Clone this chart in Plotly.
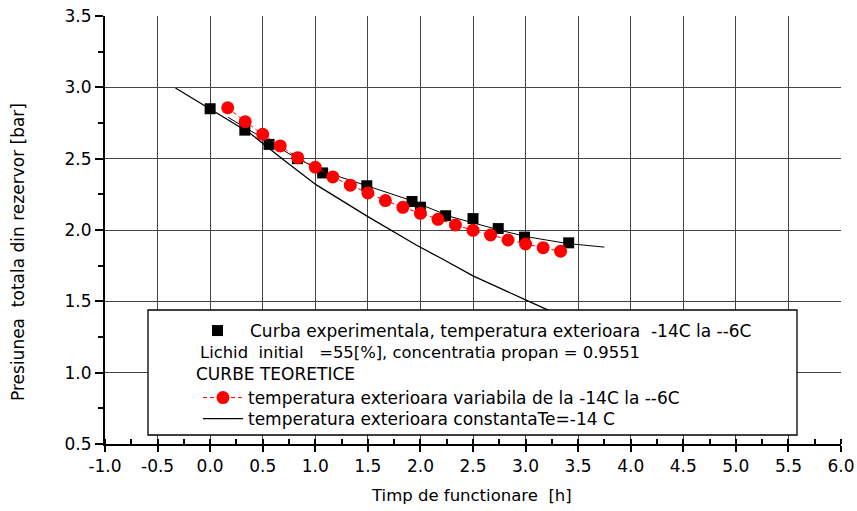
import plotly.graph_objects as go

# Experimental data (black squares)
exp_x = [0.0, 0.33, 0.56, 0.83, 1.07, 1.49, 1.92, 2.0, 2.24, 2.50, 2.74, 2.99, 3.41]
exp_y = [2.85, 2.70, 2.60, 2.50, 2.40, 2.31, 2.20, 2.16, 2.10, 2.08, 2.01, 1.95, 1.91]

# Theoretical curve, variable outside temperature (red circles)
var_x = [0.167, 0.333, 0.5, 0.667, 0.833, 1.0, 1.167, 1.333, 1.5, 1.667,
         1.833, 2.0, 2.167, 2.333, 2.5, 2.667, 2.833, 3.0, 3.167, 3.333]
var_y = [2.857, 2.759, 2.671, 2.589, 2.507, 2.440, 2.372, 2.314, 2.260, 2.206,
         2.159, 2.117, 2.075, 2.035, 1.998, 1.965, 1.930, 1.902, 1.876, 1.851]

# Fit line through experimental data (thin black, no legend)
fit_x = [0.17, 0.35, 0.57, 0.83, 1.08, 1.49, 1.90, 2.28, 2.50, 2.75, 3.01, 3.40, 3.75]
fit_y = [2.79, 2.71, 2.61, 2.50, 2.41, 2.31, 2.21, 2.095, 2.05, 2.00, 1.953, 1.905, 1.88]

# Theoretical curve, constant outside temperature Te=-14 C
const_x = [-0.33, 0.0, 0.38, 0.70, 1.01, 1.50, 1.96, 2.20, 2.50, 3.00, 3.21, 3.50]
const_y = [2.995, 2.85, 2.678, 2.49, 2.316, 2.094, 1.895, 1.80, 1.678, 1.51, 1.44, 1.35]

x_ticks = [-1.0, -0.5, 0.0, 0.5, 1.0, 1.5, 2.0, 2.5, 3.0, 3.5, 4.0, 4.5, 5.0, 5.5, 6.0]
x_labels = ["-1.0", "-0.5", "0.0", "0.5", "1.0", "1.5", "2.0", "2.5", "3.0",
            "3.5", "4.0", "4.5", "5.0", "5.5", "6.0"]
y_ticks = [0.5, 1.0, 1.5, 2.0, 2.5, 3.0, 3.5]
y_labels = ["0.5", "1.0", "1.5", "2.0", "2.5", "3.0", "3.5"]

legend_line2 = "Lichid\u00a0\u00a0initial\u00a0\u00a0\u00a0=55[%], concentratia propan = 0.9551"
legend_line3 = "CURBE TEORETICE"

FONT = "DejaVu Sans, sans-serif"

fig = go.Figure()

fig.add_trace(go.Scatter(x=fit_x, y=fit_y, mode="lines", line=dict(color="black", width=1),
                         showlegend=False, hoverinfo="skip"))
fig.add_trace(go.Scatter(x=const_x, y=const_y, mode="lines", line=dict(color="black", width=1.3),
                         name="temperatura exterioara constantaTe=-14 C",
                         legend="legend3"))
fig.add_trace(go.Scatter(x=exp_x, y=exp_y, mode="markers",
                         marker=dict(symbol="square", size=11, color="black"),
                         name="Curba experimentala, temperatura exterioara\u00a0\u00a0-14C la --6C",
                         legend="legend"))
fig.add_trace(go.Scatter(x=var_x, y=var_y, mode="lines+markers",
                         line=dict(color="red", width=1, dash="4px,3px"),
                         marker=dict(symbol="circle", size=13, color="red"),
                         name="temperatura exterioara variabila de la -14C la --6C",
                         legend="legend2"))

L, R, T, B = 105, 841, 16, 444
W, H = R - L, B - T

def px2x(p):
    return (p - L) / W

def py2y(p):
    return (B - p) / H

axis_common = dict(showline=True, linecolor="black", linewidth=2, zeroline=False, automargin=False)
minor_in = dict(dtick=0.25, tick0=0, ticks="inside", ticklen=5, tickwidth=1.5,
                tickcolor="black", showgrid=False)
minor_out = dict(dtick=0.25, tick0=0, ticks="outside", ticklen=5, tickwidth=1.5,
                 tickcolor="black", showgrid=False)

legend_common = dict(xanchor="left", yanchor="top", bgcolor="rgba(0,0,0,0)",
                     borderwidth=0, font=dict(size=17), tracegroupgap=0)

fig.update_layout(
    width=857, height=511,
    margin=dict(l=L, r=857 - R, t=T, b=511 - B),
    paper_bgcolor="white", plot_bgcolor="white",
    font=dict(family=FONT, color="black", size=16),
    xaxis=dict(range=[-1, 6], tickvals=x_ticks, ticktext=x_labels,
               ticks="outside", ticklen=6, tickwidth=1.5, tickcolor="black",
               minor=minor_in, showgrid=True, gridcolor="#444444", gridwidth=1,
               tickfont=dict(size=17), **axis_common),
    yaxis=dict(range=[0.5, 3.5], tickvals=y_ticks, ticktext=y_labels,
               ticks="outside", ticklen=8, tickwidth=1.5, tickcolor="black",
               minor=minor_out, showgrid=True, gridcolor="#444444", gridwidth=1,
               tickfont=dict(size=17), **axis_common),
    xaxis2=dict(range=[-1, 6], overlaying="x", side="top", anchor="y",
                tickvals=x_ticks, ticks="inside", ticklen=7, tickwidth=1.5, tickcolor="black",
                minor=minor_in, showticklabels=False, showgrid=False, **axis_common),
    xaxis3=dict(range=[-1, 6], overlaying="x", side="bottom", anchor="y",
                tickvals=x_ticks, ticks="inside", ticklen=5, tickwidth=1.5, tickcolor="black",
                showticklabels=False, showgrid=False, showline=False, zeroline=False,
                automargin=False),
    yaxis2=dict(range=[0.5, 3.5], overlaying="y", side="right", anchor="x",
                tickvals=y_ticks, ticks="inside", ticklen=8, tickwidth=1.5, tickcolor="black",
                minor=minor_in, showticklabels=False, showgrid=False, **axis_common),
    legend=dict(x=px2x(185), y=py2y(313), itemwidth=55, **legend_common),
    legend2=dict(x=px2x(198), y=py2y(380), itemwidth=40, **legend_common),
    legend3=dict(x=px2x(198), y=py2y(401), itemwidth=40, **legend_common),
    shapes=[dict(type="rect", xref="paper", yref="paper",
                 x0=px2x(148), x1=px2x(797), y0=py2y(435), y1=py2y(310),
                 fillcolor="white", line=dict(color="black", width=1.3), layer="above")],
    annotations=[
        dict(text="Presiunea\u00a0\u00a0totala din rezervor [bar]", textangle=-90,
             xref="paper", yref="paper", x=px2x(18), y=py2y(252),
             showarrow=False, font=dict(size=17), xanchor="center", yanchor="middle"),
        dict(text="Timp de functionare\u00a0\u00a0[h]",
             xref="paper", yref="paper", x=px2x(471), y=py2y(496),
             showarrow=False, font=dict(size=16.5), xanchor="center", yanchor="middle"),
        dict(text=legend_line2, xref="paper", yref="paper", x=px2x(198), y=py2y(352),
             showarrow=False, font=dict(size=16.4), xanchor="left", yanchor="middle"),
        dict(text=legend_line3, xref="paper", yref="paper", x=px2x(194), y=py2y(374),
             showarrow=False, font=dict(size=17), xanchor="left", yanchor="middle"),
    ],
    showlegend=True,
)

fig.write_html("out.html")
